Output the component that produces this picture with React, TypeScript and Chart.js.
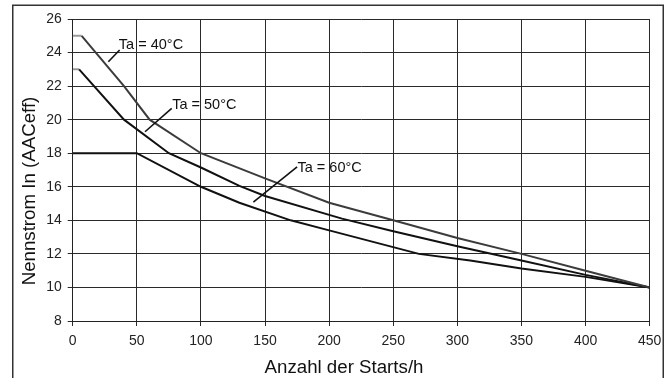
import React, { useEffect, useRef } from "react";
import { Chart, registerables } from "chart.js";

Chart.register(...registerables);

const x40 = [0, 7, 40, 60, 100, 150, 200, 250, 300, 350, 400, 450];
const y40 = [25, 25, 22, 20, 18, 16.5, 15.05, 14, 12.95, 12, 11, 10];

const x50 = [0, 5, 40, 75, 100, 130, 150, 210, 250, 300, 350, 400, 450];
const y50 = [23, 23, 20, 18, 17.15, 16.05, 15.45, 14.1, 13.35, 12.45, 11.6, 10.75, 10];

const x60 = [0, 50, 100, 130, 170, 200, 270, 310, 350, 400, 450];
const y60 = [18, 18, 16, 15.05, 14, 13.4, 12, 11.6, 11.13, 10.63, 10];

const seriesLabels = ["Ta = 40°C", "Ta = 50°C", "Ta = 60°C"];
// leader lines in data coordinates: [x0, y0, x1, y1]
const leaders = [
  [27.8, 23.45, 36.6, 24.15],
  [56.4, 19.28, 77.2, 20.67],
  [140.9, 15.09, 175, 17.19],
];
// label anchor (left, middle) in data coordinates
const labelAnchors = [
  [36.0, 24.45],
  [77.6, 20.87],
  [175.3, 17.1],
];

const xTitle = "Anzahl der Starts/h";
const yTitle = "Nennstrom In (AACeff)";

const FONT = "'Liberation Sans', Arial, Helvetica, sans-serif";

const toPts = (xs: number[], ys: number[]) => xs.map((x, i) => ({ x, y: ys[i] }));

const decorPlugin = {
  id: "decor",
  afterDraw(chart: any) {
    const ctx = chart.ctx;
    const xs = chart.scales.x;
    const ys = chart.scales.y;
    ctx.save();
    // outer frame
    ctx.strokeStyle = "#333";
    ctx.lineWidth = 1.5;
    ctx.strokeRect(12.75, 5.25, 650.5, 400);
    // annotations
    ctx.strokeStyle = "#111";
    ctx.lineWidth = 1.6;
    ctx.fillStyle = "#111";
    ctx.font = `14.5px ${FONT}`;
    ctx.textBaseline = "middle";
    ctx.textAlign = "left";
    leaders.forEach((l, i) => {
      ctx.beginPath();
      ctx.moveTo(xs.getPixelForValue(l[0]), ys.getPixelForValue(l[1]));
      ctx.lineTo(xs.getPixelForValue(l[2]), ys.getPixelForValue(l[3]));
      ctx.stroke();
      const a = labelAnchors[i];
      ctx.fillText(seriesLabels[i], xs.getPixelForValue(a[0]), ys.getPixelForValue(a[1]));
    });
    // x title
    ctx.font = `18.7px ${FONT}`;
    ctx.textAlign = "center";
    ctx.textBaseline = "alphabetic";
    ctx.fillText(xTitle, 344, 373);
    // y title
    ctx.textBaseline = "middle";
    ctx.translate(29.5, 191);
    ctx.rotate(-Math.PI / 2);
    ctx.fillText(yTitle, 0, 0);
    ctx.restore();
  },
};

export default function App() {
  const ref = useRef<HTMLCanvasElement | null>(null);
  useEffect(() => {
    if (!ref.current) return;
    const gray = (ctx: any) => (ctx.p0DataIndex === 0 ? "#9a9a9a" : undefined);
    const chart = new Chart(ref.current, {
      type: "line",
      data: {
        datasets: [
          {
            label: seriesLabels[0],
            data: toPts(x40, y40),
            borderColor: "#3c3c3c",
            borderWidth: 2,
            pointRadius: 0,
            tension: 0,
            segment: { borderColor: gray },
          },
          {
            label: seriesLabels[1],
            data: toPts(x50, y50),
            borderColor: "#111",
            borderWidth: 2,
            pointRadius: 0,
            tension: 0,
            segment: { borderColor: gray },
          },
          {
            label: seriesLabels[2],
            data: toPts(x60, y60),
            borderColor: "#111",
            borderWidth: 2,
            pointRadius: 0,
            tension: 0,
          },
        ],
      },
      options: {
        animation: false,
        responsive: false,
        devicePixelRatio: 1,
        layout: { padding: { left: 0, right: 20.3, top: 19, bottom: 0 } },
        plugins: { legend: { display: false }, tooltip: { enabled: false } },
        scales: {
          x: {
            type: "linear",
            min: 0,
            max: 450,
            afterFit: (s: any) => {
              s.height = 57;
            },
            ticks: {
              stepSize: 50,
              color: "#222",
              font: { family: FONT, size: 14 },
              padding: 7,
              maxRotation: 0,
            },
            grid: { color: "#2a2a2a", lineWidth: 1, tickLength: 5, tickColor: "#2a2a2a" },
            border: { color: "#222", width: 1 },
          },
          y: {
            type: "linear",
            min: 8,
            max: 26,
            afterFit: (s: any) => {
              s.width = 72.7;
            },
            ticks: {
              stepSize: 2,
              color: "#222",
              font: { family: FONT, size: 14 },
              padding: 6,
            },
            grid: { color: "#2a2a2a", lineWidth: 1, tickLength: 5, tickColor: "#2a2a2a" },
            border: { color: "#222", width: 1 },
          },
        },
      },
      plugins: [decorPlugin],
    } as any);
    return () => chart.destroy();
  }, []);
  return (
    <div style={{ position: "absolute", left: 0, top: 0, width: 670, height: 378, background: "#fff" }}>
      <canvas ref={ref} width={670} height={378} />
    </div>
  );
}
